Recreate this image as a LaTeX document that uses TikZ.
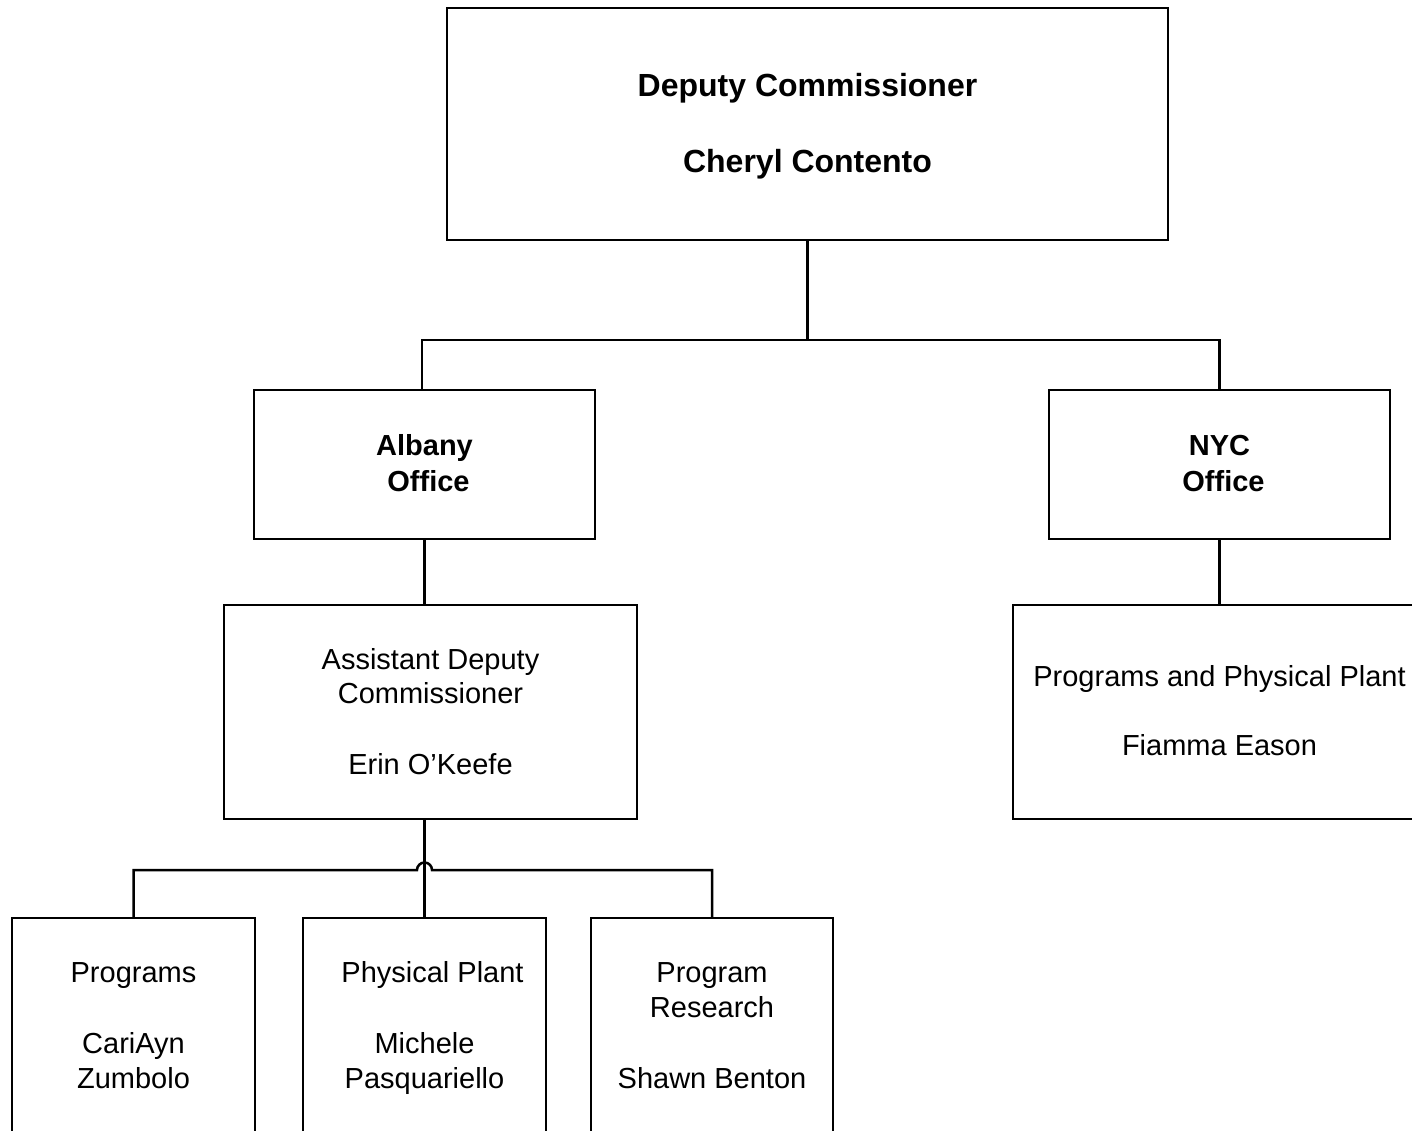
\documentclass[tikz,border=0pt]{standalone}
\usepackage{fontspec}
\setmainfont{Liberation Sans}
\begin{document}
\begin{tikzpicture}[x=1pt,y=-1pt,
  box/.style={draw, line width=2.5pt, inner sep=0pt},
  conn/.style={line width=2.5pt},
  big/.style={font=\fontsize{32}{38}\selectfont\bfseries, anchor=base, inner sep=0pt},
  bt/.style={font=\fontsize{29}{34}\selectfont\bfseries, anchor=base, inner sep=0pt},
  rt/.style={font=\fontsize{29}{34}\selectfont, anchor=base, inner sep=0pt}]
\useasboundingbox (0,0) rectangle (1412,1130);
\clip (0,0) rectangle (1412,1130);
% boxes
\node[box, minimum width=721pt, minimum height=232pt] (top) at (807.5,124) {};
\node[box, minimum width=341pt, minimum height=149pt] (albany) at (424.5,464.5) {};
\node[box, minimum width=341pt, minimum height=149pt] (nyc) at (1219.5,464.5) {};
\node[box, minimum width=413pt, minimum height=214pt] (adc) at (430.5,712) {};
\node[box, minimum width=440pt, minimum height=214pt] (nycp) at (1233,712) {};
\node[box, minimum width=243pt, minimum height=260pt] (prog) at (133.5,1048) {};
\node[box, minimum width=243pt, minimum height=260pt] (phys) at (424.5,1048) {};
\node[box, minimum width=242pt, minimum height=260pt] (res) at (712,1048) {};
% texts
\node[big] (t1) at (807.5,96.5) {Deputy Commissioner};
\node[big] (t2) at (807.5,172.5) {Cheryl Contento};
\node[bt] (t3) at (424.5,455.5) {Albany};
\node[bt] (t4) at (428.5,491.5) {Office};
\node[bt] (t5) at (1219.5,455.5) {NYC};
\node[bt] (t6) at (1223.5,491.5) {Office};
\node[rt] (t7) at (430.5,669.5) {Assistant Deputy};
\node[rt] (t8) at (430.5,703.5) {Commissioner};
\node[rt] (t9) at (430.5,774.5) {Erin O’Keefe};
\node[rt] (t10) at (1219.5,686.5) {Programs and Physical Plant};
\node[rt] (t11) at (1219.5,755.5) {Fiamma Eason};
\node[rt] (t12) at (133.5,982.5) {Programs};
\node[rt] (t13) at (133.5,1053.5) {CariAyn};
\node[rt] (t14) at (133.5,1088.5) {Zumbolo};
\node[rt] (t15) at (432.5,982.5) {Physical Plant};
\node[rt] (t16) at (424.5,1053.5) {Michele};
\node[rt] (t17) at (424.5,1088.5) {Pasquariello};
\node[rt] (t18) at (712,982.5) {Program};
\node[rt] (t19) at (712,1017.5) {Research};
\node[rt] (t20) at (712,1088.5) {Shawn Benton};
% connectors
\coordinate (j1) at (807.5,340);
\coordinate (j0) at (422,340);
\draw[conn] (top.south) -- (j1);
\draw[conn] (albany.north -| j0) -- (j0) -- (j1) -| (nyc.north);
\draw[conn] (albany.south) -- (adc.north -| albany.south);
\draw[conn] (nyc.south) -- (nycp.north -| nyc.south);
\coordinate (j2) at (133.5,870);
\coordinate (j3) at (712,870);
\coordinate (h1) at (417,870);
\draw[conn] (adc.south -| phys.north) -- (phys.north);
\draw[conn] (prog.north) -- (j2) -- (h1) arc[start angle=180, end angle=0, radius=7.5pt] -- (j3) -- (res.north);
\end{tikzpicture}
\end{document}
